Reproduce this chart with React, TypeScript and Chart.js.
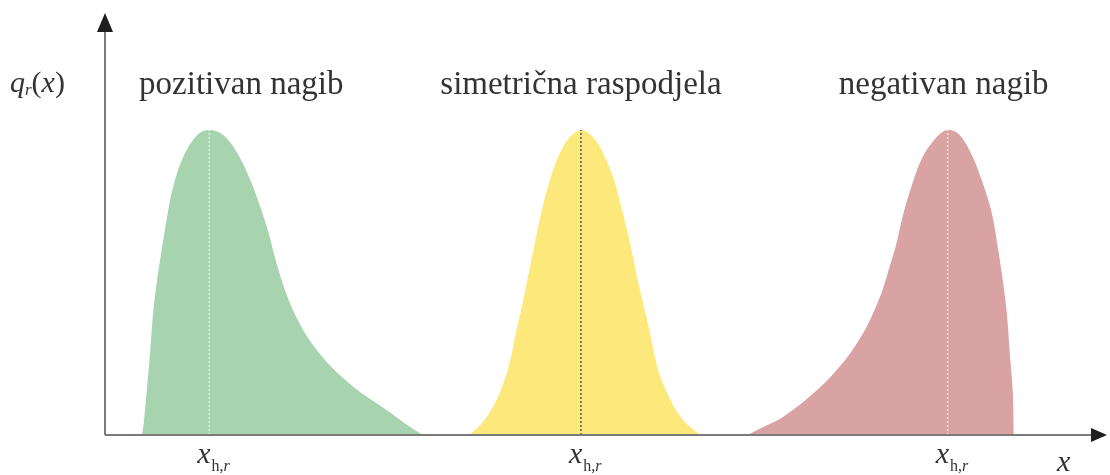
import React, { useEffect, useRef } from "react";
import { Chart, registerables } from "chart.js";

Chart.register(...registerables);

// x in arbitrary units 0..100, q_r(x) in arbitrary units 0..100
const greenX = [3.7, 3.9, 4.2, 4.5, 4.8, 5.2, 5.7, 6.2, 6.8, 7.8, 9.2, 10.4, 11.8, 13.2, 14.5, 15.5, 16.3, 17.0, 17.9, 18.8, 20.2, 22.2, 24.8, 28.1, 29.9, 31.7];
const greenY = [0, 3.6, 11.4, 19.4, 28.9, 36.7, 44.5, 51.7, 58.8, 65.9, 71.1, 72.3, 71.1, 66.8, 60.4, 54.0, 48.1, 41.7, 34.8, 29.4, 23.2, 17.1, 11.4, 5.9, 2.8, 0];

const yellowX = [36.4, 37.6, 38.6, 39.4, 40.1, 40.6, 41.0, 41.6, 42.2, 42.9, 43.6, 44.4, 45.4, 46.4, 47.5, 48.7, 49.7, 50.8, 51.6, 52.4, 53.1, 53.8, 54.4, 54.8, 55.3, 56.1, 56.9, 58.0, 59.4];
const yellowY = [0, 2.8, 6.2, 10.0, 14.7, 19.4, 24.2, 30.3, 37.4, 45.5, 53.3, 60.4, 66.8, 70.6, 72.3, 70.6, 66.8, 60.4, 53.3, 45.5, 37.4, 30.3, 24.2, 19.4, 14.7, 10.0, 6.2, 2.8, 0];

const redX = [64.1, 65.7, 67.7, 71.1, 73.7, 75.1, 76.0, 76.8, 77.6, 78.3, 79.0, 79.6, 80.6, 81.6, 83.0, 84.1, 85.3, 86.6, 87.6, 88.5, 89.1, 89.6, 90.0, 90.3, 90.6, 90.7];
const redY = [0, 1.9, 4.3, 10.7, 17.3, 22.0, 25.6, 29.6, 34.4, 39.8, 45.5, 51.7, 59.7, 65.9, 70.6, 72.3, 71.1, 65.9, 59.7, 52.6, 44.5, 36.7, 28.9, 19.4, 10.0, 0];

const modes = [10.4, 47.5, 84.1];
const modePeaks = [72.3, 72.3, 72.3];
const titles = ["pozitivan nagib", "simetrična raspodjela", "negativan nagib"];
const titleCenters = [13.6, 47.5, 83.7];

const fillColors = ["#a7d3ae", "#fce87b", "#daa3a3"];
const modeLineColors = ["rgba(255,255,255,0.85)", "rgba(70,70,70,0.9)", "rgba(255,255,255,0.85)"];

const toPoints = (xs: number[], ys: number[]) => xs.map((x, i) => ({ x, y: ys[i] }));

const TEXT = "#333333";
const SERIF = "'Liberation Serif', 'DejaVu Serif', serif";

const decorPlugin = {
  id: "decor",
  afterDatasetsDraw(chart: any) {
    const { ctx, chartArea } = chart;
    const xs = chart.scales.x;
    const { left, right, top, bottom } = chartArea;
    ctx.save();
    // axes
    ctx.strokeStyle = "#7a7a7a";
    ctx.fillStyle = "#1e1e1e";
    ctx.lineWidth = 2;
    ctx.beginPath();
    ctx.moveTo(left, bottom);
    ctx.lineTo(right - 12, bottom);
    ctx.moveTo(left, bottom);
    ctx.lineTo(left, top + 14);
    ctx.stroke();
    // x arrow
    ctx.beginPath();
    ctx.moveTo(right, bottom);
    ctx.lineTo(right - 16, bottom - 7);
    ctx.lineTo(right - 16, bottom + 7);
    ctx.closePath();
    ctx.fill();
    // y arrow
    ctx.beginPath();
    ctx.moveTo(left, top);
    ctx.lineTo(left - 8, top + 19);
    ctx.lineTo(left + 8, top + 19);
    ctx.closePath();
    ctx.fill();

    ctx.fillStyle = TEXT;
    ctx.textBaseline = "alphabetic";
    // titles
    ctx.font = `33px ${SERIF}`;
    ctx.textAlign = "center";
    titles.forEach((t, i) => {
      ctx.fillText(t, xs.getPixelForValue(titleCenters[i]), top + 81);
    });

    // x_h,r labels
    ctx.textAlign = "left";
    modes.forEach((m) => {
      const px = xs.getPixelForValue(m) - 12;
      ctx.font = `italic 30px ${SERIF}`;
      ctx.fillText("x", px, bottom + 28);
      const w = ctx.measureText("x").width;
      ctx.font = `16px ${SERIF}`;
      ctx.fillText("h,", px + w + 1, bottom + 36);
      const w2 = ctx.measureText("h,").width;
      ctx.font = `italic 16px ${SERIF}`;
      ctx.fillText("r", px + w + 1 + w2, bottom + 36);
    });

    // axis title x
    ctx.font = `italic 30px ${SERIF}`;
    ctx.fillText("x", right - 50, bottom + 36);

    // y axis title q_r(x)
    let cx = 10;
    const by = top + 79;
    ctx.font = `italic 30px ${SERIF}`;
    ctx.fillText("q", cx, by);
    cx += ctx.measureText("q").width;
    ctx.font = `italic 17px ${SERIF}`;
    ctx.fillText("r", cx, by + 3);
    cx += ctx.measureText("r").width;
    ctx.font = `30px ${SERIF}`;
    ctx.fillText("(", cx, by);
    cx += ctx.measureText("(").width;
    ctx.font = `italic 30px ${SERIF}`;
    ctx.fillText("x", cx, by);
    cx += ctx.measureText("x").width;
    ctx.font = `30px ${SERIF}`;
    ctx.fillText(")", cx, by);
    ctx.restore();
  },
};

export default function App() {
  const canvasRef = useRef<HTMLCanvasElement | null>(null);

  useEffect(() => {
    if (!canvasRef.current) return;
    const shapes = [
      toPoints(greenX, greenY),
      toPoints(yellowX, yellowY),
      toPoints(redX, redY),
    ];
    const areaSets = shapes.map((pts, i) => ({
      data: pts,
      fill: "origin",
      backgroundColor: fillColors[i],
      borderColor: fillColors[i],
      borderWidth: 0,
      pointRadius: 0,
      tension: 0.35,
      order: 2,
    }));
    const modeSets = modes.map((m, i) => ({
      data: [
        { x: m, y: 0 },
        { x: m, y: modePeaks[i] },
      ],
      fill: false,
      borderColor: modeLineColors[i],
      borderWidth: i === 1 ? 1.5 : 1.2,
      borderDash: [2, 2],
      pointRadius: 0,
      order: 1,
    }));
    const chart = new Chart(canvasRef.current, {
      type: "line",
      data: { datasets: [...areaSets, ...modeSets] as any },
      options: {
        animation: false,
        responsive: false,
        events: [],
        layout: { padding: { left: 105, right: 3, top: 13, bottom: 40 } },
        plugins: { legend: { display: false }, tooltip: { enabled: false } },
        scales: {
          x: { type: "linear", min: 0, max: 100, display: false },
          y: { type: "linear", min: 0, max: 100, display: false },
        },
      },
      plugins: [decorPlugin],
    });
    return () => chart.destroy();
  }, []);

  return (
    <div style={{ position: "fixed", left: 0, top: 0, width: 1110, height: 475, background: "#ffffff" }}>
      <canvas ref={canvasRef} width={1110} height={475} style={{ display: "block" }} />
    </div>
  );
}
